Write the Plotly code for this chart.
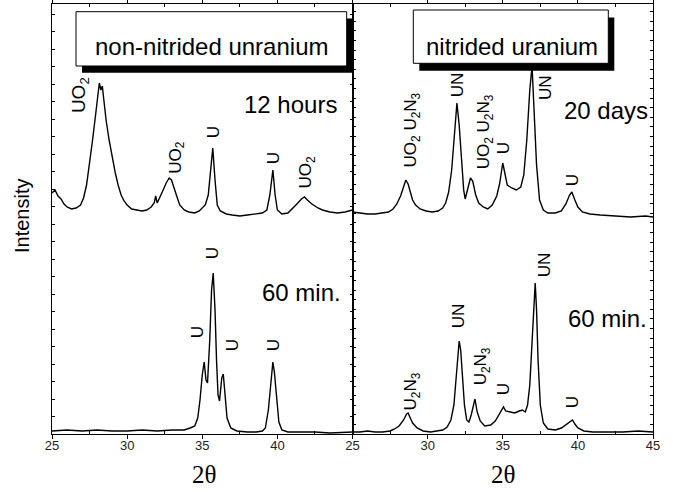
import plotly.graph_objects as go
from plotly.subplots import make_subplots

# ---------------- data ----------------
# non-nitrided uranium, 12 hours (upper left)
nn12_x = [25.0, 25.2, 25.4, 25.6, 25.8, 26.0, 26.3, 26.6, 26.9, 27.1, 27.3, 27.5, 27.7, 27.9, 28.05, 28.15,
          28.25, 28.35, 28.45, 28.6, 28.8, 29.0, 29.2, 29.4, 29.6, 29.8, 30.0, 30.3, 30.6, 31.0, 31.3, 31.6,
          31.8, 31.9, 32.0, 32.2, 32.4, 32.6, 32.8, 32.95, 33.1, 33.3, 33.5, 33.8, 34.1, 34.5, 34.8, 35.0,
          35.2, 35.4, 35.55, 35.7, 35.85, 36.0, 36.2, 36.6, 37.0, 37.5, 38.0, 38.5, 39.0, 39.3, 39.5, 39.7,
          39.85, 40.0, 40.3, 40.7, 41.0, 41.3, 41.6, 41.8, 42.0, 42.3, 42.7, 43.0, 43.5, 44.0, 44.5, 45.0]
nn12_y = [241, 244, 238, 235, 230, 227, 225, 226, 229, 236, 249, 269, 294, 319, 339, 351,
          344, 348, 334, 314, 294, 276, 262, 249, 239, 233, 229, 225, 224, 223, 224, 227,
          231, 238, 231, 237, 244, 251, 256, 254, 248, 238, 229, 224, 222, 221, 223, 226,
          229, 239, 264, 286, 254, 229, 223, 220, 219, 218, 219, 220, 221, 224, 239, 264,
          239, 224, 220, 221, 225, 230, 235, 237, 234, 230, 226, 224, 222, 221, 222, 224]

# non-nitrided uranium, 60 min (lower left)
nn60_x = [25.0, 26.0, 27.0, 28.0, 29.0, 30.0, 31.0, 32.0, 33.0, 33.8, 34.2, 34.5, 34.7, 34.85, 35.0, 35.13,
          35.25, 35.35, 35.5, 35.62, 35.73, 35.85, 35.95, 36.05, 36.15, 36.3, 36.4, 36.5, 36.65, 36.9, 37.3,
          38.0, 38.6, 39.0, 39.2, 39.4, 39.55, 39.7, 39.8, 39.95, 40.1, 40.3, 40.7, 41.5, 42.5, 43.5, 44.5, 45.0]
nn60_y = [3, 4, 3, 4, 3, 3, 4, 3, 4, 4, 6, 8, 16, 34, 59, 72,
          54, 51, 94, 144, 161, 124, 74, 39, 33, 56, 60, 39, 16, 6, 3,
          2, 2, 3, 6, 24, 49, 72, 62, 34, 12, 4, 2, 2, 2, 1, 2, 2]

# nitrided uranium, 20 days (upper right)
n20_x = [25.0, 25.5, 26.0, 26.5, 27.0, 27.4, 27.7, 27.95, 28.2, 28.4, 28.55, 28.7, 28.85, 29.0, 29.2, 29.5,
         29.9, 30.3, 30.7, 31.0, 31.2, 31.4, 31.6, 31.8, 31.95, 32.1, 32.25, 32.4, 32.5, 32.65, 32.85, 33.0,
         33.2, 33.4, 33.7, 34.0, 34.3, 34.6, 34.8, 35.0, 35.15, 35.3, 35.6, 35.9, 36.2, 36.4, 36.6, 36.8,
         36.95, 37.1, 37.25, 37.45, 37.7, 38.0, 38.5, 38.9, 39.2, 39.45, 39.6, 39.8, 40.0, 40.3, 40.8, 41.5,
         42.5, 43.5, 44.5, 45.0]
n20_y = [222, 221, 220, 220, 221, 222, 225, 230, 238, 246, 254, 250, 241, 234, 229, 225,
         223, 222, 223, 226, 231, 242, 264, 299, 331, 309, 274, 244, 235, 244, 256, 253,
         239, 231, 227, 225, 229, 238, 251, 271, 259, 249, 246, 244, 247, 259, 294, 344,
         368, 324, 269, 234, 224, 221, 221, 223, 230, 239, 242, 234, 227, 222, 220, 219,
         218, 217, 218, 217]

# nitrided uranium, 60 min (lower right)
n60_x = [25.0, 25.5, 26.0, 26.5, 27.0, 27.5, 27.8, 28.1, 28.4, 28.6, 28.7, 28.85, 29.0, 29.3, 29.7, 30.2,
         30.7, 31.0, 31.3, 31.55, 31.75, 31.9, 32.0, 32.1, 32.2, 32.3, 32.45, 32.6, 32.75, 32.9, 33.05, 33.15,
         33.3, 33.5, 33.8, 34.2, 34.5, 34.8, 35.05, 35.2, 35.5, 35.8, 36.1, 36.3, 36.5, 36.65, 36.8, 36.95,
         37.08, 37.16, 37.25, 37.35, 37.5, 37.7, 38.0, 38.5, 38.9, 39.2, 39.45, 39.64, 39.8, 40.0, 40.4, 41.0,
         42.0, 43.0, 44.0, 45.0]
n60_y = [2, 2, 3, 2, 2, 3, 5, 8, 14, 20, 21, 16, 11, 6, 3, 2,
         3, 4, 7, 14, 29, 54, 79, 93, 84, 59, 29, 14, 12, 19, 30, 35,
         22, 13, 8, 9, 13, 21, 27, 23, 22, 21, 23, 24, 22, 29, 49, 94,
         139, 151, 124, 74, 29, 11, 5, 4, 6, 9, 12, 14, 10, 6, 3, 2,
         2, 2, 3, 2]

x_tickvals = [25, 30, 35, 40, 45]
left_ticktext = ["25", "30", "35", "40", ""]
right_ticktext = ["25", "30", "35", "40", "45"]

# peak labels: (text, x, y, font size)
left_labels = [("UO<sub>2</sub>", 26.87, 339, 19), ("UO<sub>2</sub>", 33.3, 277, 17), ("U", 35.73, 302, 17),
               ("U", 39.73, 276, 17), ("UO<sub>2</sub>", 42.0, 262, 17),
               ("U", 34.67, 102, 17), ("U", 35.67, 181, 17), ("U", 37.0, 89, 17), ("U", 39.73, 89, 17)]
right_labels = [("UO<sub>2</sub> U<sub>2</sub>N<sub>3</sub>", 28.99, 304, 17), ("UN", 31.98, 349, 17),
                ("UO<sub>2</sub> U<sub>2</sub>N<sub>3</sub>", 33.84, 302, 17), ("U", 35.03, 286, 17),
                ("UN", 37.82, 346, 17), ("U", 39.62, 254, 17),
                ("U<sub>2</sub>N<sub>3</sub>", 28.99, 43, 17), ("UN", 32.04, 118, 17),
                ("U<sub>2</sub>N<sub>3</sub>", 33.64, 68, 17), ("U", 35.03, 45, 17),
                ("UN", 37.76, 169, 17), ("U", 39.62, 32, 17)]
time_labels_left = [("12 hours", 40.9, 330), ("60 min.", 41.6, 142)]
time_labels_right = [("20 days", 41.88, 324), ("60 min.", 41.94, 116)]

# ---------------- figure ----------------
W, H = 673, 492
ML, MR, MT, MB = 52, 20, 4, 58
PW, PH = W - ML - MR, H - MT - MB


def px(p):
    return (p - ML) / PW


def py(p):
    return (MT + PH - p) / PH


FONT = "Arial, Liberation Sans, sans-serif"
fig = make_subplots(rows=1, cols=2, horizontal_spacing=0, shared_yaxes=False)

line = dict(color="black", width=1.4)
fig.add_trace(go.Scatter(x=nn12_x, y=nn12_y, mode="lines", line=line, showlegend=False), 1, 1)
fig.add_trace(go.Scatter(x=nn60_x, y=nn60_y, mode="lines", line=line, showlegend=False), 1, 1)
fig.add_trace(go.Scatter(x=n20_x, y=n20_y, mode="lines", line=line, showlegend=False), 1, 2)
fig.add_trace(go.Scatter(x=n60_x, y=n60_y, mode="lines", line=line, showlegend=False), 1, 2)

xcommon = dict(range=[25, 45], showgrid=False, zeroline=False, showline=True, linecolor="black", linewidth=1,
               mirror="ticks", ticks="outside", ticklen=4, tickcolor="black", tickvals=x_tickvals,
               ticklabelstandoff=-5,
               tickfont=dict(family=FONT, size=13, color="#222"),
               minor=dict(tickvals=[27.5, 32.5, 37.5, 42.5], ticks="inside", ticklen=3, tickcolor="black"))
fig.update_xaxes(**xcommon)
fig.update_xaxes(ticktext=left_ticktext, row=1, col=1)
fig.update_xaxes(ticktext=right_ticktext, row=1, col=2)

ycommon = dict(range=[0, 430], showgrid=False, zeroline=False, showline=True, linecolor="black", linewidth=1,
               mirror="ticks", ticks="inside", ticklen=3, tickcolor="black", showticklabels=False)
fig.update_yaxes(**ycommon, tick0=0, dtick=17.5, row=1, col=1)
fig.update_yaxes(**ycommon, tick0=0, dtick=9.6, row=1, col=2)

C = dict(xanchor="center", yanchor="middle", showarrow=False)
ann = []
for t, x, y, s in left_labels:
    ann.append(dict(text=t, x=x, y=y, xref="x", yref="y", textangle=-90,
                    font=dict(family=FONT, size=s, color="black"), **C))
for t, x, y, s in right_labels:
    ann.append(dict(text=t, x=x, y=y, xref="x2", yref="y2", textangle=-90,
                    font=dict(family=FONT, size=s, color="black"), **C))
for t, x, y in time_labels_left:
    ann.append(dict(text=t, x=x, y=y, xref="x", yref="y",
                    font=dict(family=FONT, size=24, color="black"), **C))
for t, x, y in time_labels_right:
    ann.append(dict(text=t, x=x, y=y, xref="x2", yref="y2",
                    font=dict(family=FONT, size=24, color="black"), **C))

# boxed panel titles
ann.append(dict(text="non-nitrided unranium", x=px(211.5), y=py(47), xref="paper", yref="paper",
                font=dict(family=FONT, size=24, color="black"), **C))
ann.append(dict(text="nitrided uranium", x=px(511.5), y=py(46), xref="paper", yref="paper",
                font=dict(family=FONT, size=24, color="black"), **C))
# axis titles
SERIF = "Liberation Serif, Times New Roman, serif"
ann.append(dict(text="2θ", x=px(204), y=py(474), xref="paper", yref="paper",
                font=dict(family=SERIF, size=25, color="black"), **C))
ann.append(dict(text="2θ", x=px(503), y=py(474), xref="paper", yref="paper",
                font=dict(family=SERIF, size=25, color="black"), **C))
ann.append(dict(text="Intensity", x=px(22), y=py(216), xref="paper", yref="paper", textangle=-90,
                font=dict(family=FONT, size=20, color="black"), **C))

shapes = []
for (x0, y0, x1, y1), off in [((76, 11.7, 346.7, 66), (6, 6.7)), ((413.3, 10, 608.3, 63.3), (6, 7.4))]:
    shapes.append(dict(type="rect", xref="paper", yref="paper", x0=px(x0 + off[0]), x1=px(x1 + off[0]),
                       y0=py(y1 + off[1]), y1=py(y0 + off[1]), fillcolor="black", line=dict(width=0),
                       layer="above"))
    shapes.append(dict(type="rect", xref="paper", yref="paper", x0=px(x0), x1=px(x1),
                       y0=py(y1), y1=py(y0), fillcolor="white", line=dict(color="black", width=1),
                       layer="above"))

fig.update_layout(width=W, height=H, margin=dict(l=ML, r=MR, t=MT, b=MB, autoexpand=False),
                  paper_bgcolor="white", plot_bgcolor="white", annotations=ann, shapes=shapes)

fig.write_html("out.html", post_script="document.body.style.margin='0';",
               config={"displayModeBar": False})
